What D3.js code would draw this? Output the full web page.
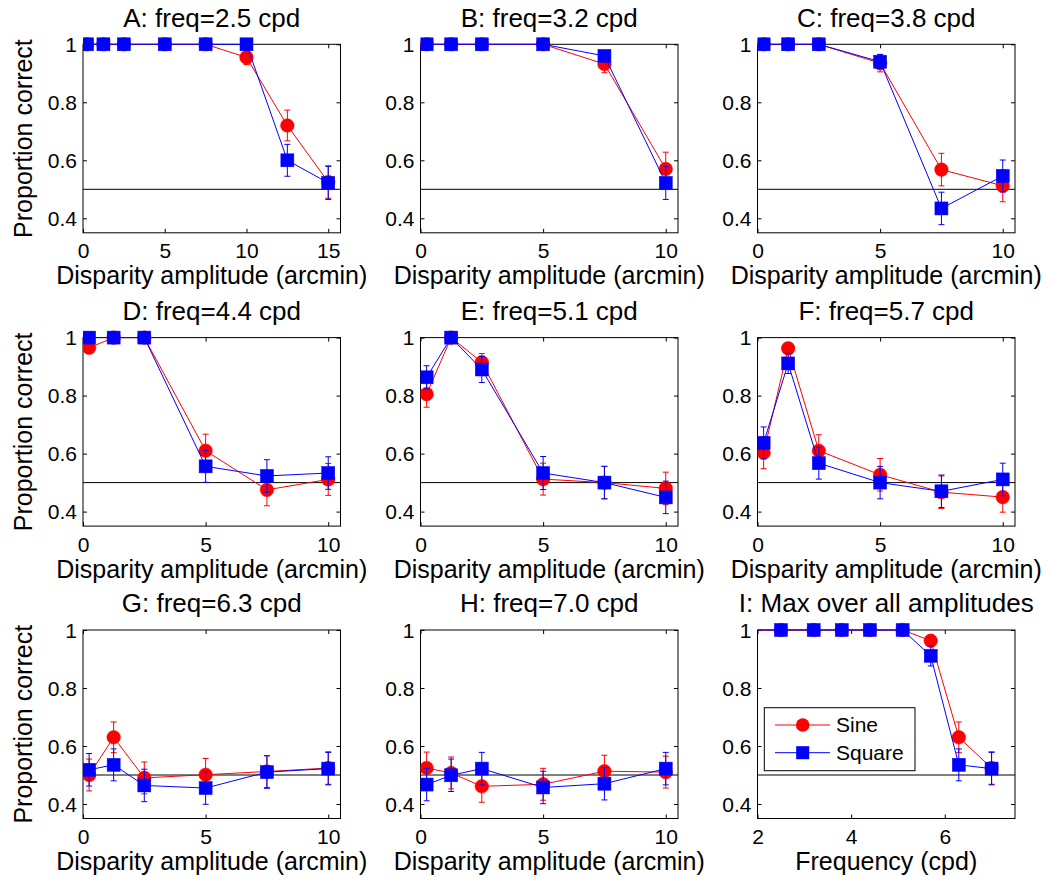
<!DOCTYPE html>
<html><head><meta charset="utf-8">
<script src="https://cdn.jsdelivr.net/npm/d3@7"></script>
<style>
body{margin:0;background:#fff}
text{font-family:"Liberation Sans",Arial,Helvetica,sans-serif;fill:#000}
</style>
</head><body>
<svg id="chart" width="1052" height="881"></svg>
<script>
// ---------- data ----------
const amps8 = [0.25, 1.25, 2.5, 5, 7.5, 10, 12.5, 15];
const amps6 = [0.25, 1.25, 2.5, 5, 7.5, 10];
const freqs = [1.9, 2.5, 3.2, 3.8, 4.4, 5.1, 5.7, 6.3, 7.0];

const sineA = [1, 1, 1, 1, 1, 0.955, 0.72, 0.525];
const sineAErr = [0, 0, 0, 0, 0, 0.025, 0.053, 0.056];
const squareA = [1, 1, 1, 1, 1, 1, 0.6, 0.522];
const squareAErr = [0, 0, 0, 0, 0, 0, 0.055, 0.057];

const sineB = [1, 1, 1, 1, 0.932, 0.57];
const sineBErr = [0, 0, 0, 0, 0.03, 0.058];
const squareB = [1, 1, 1, 1, 0.96, 0.522];
const squareBErr = [0, 0, 0, 0, 0.012, 0.057];

const sineC = [1, 1, 1, 0.935, 0.568, 0.512];
const sineCErr = [0, 0, 0, 0.03, 0.056, 0.055];
const squareC = [1, 1, 1, 0.94, 0.434, 0.546];
const squareCErr = [0, 0, 0, 0.025, 0.056, 0.055];

const sineD = [0.965, 1, 1, 0.61, 0.475, 0.511];
const sineDErr = [0.02, 0, 0, 0.057, 0.055, 0.055];
const squareD = [1, 1, 1, 0.556, 0.523, 0.533];
const squareDErr = [0, 0, 0, 0.055, 0.056, 0.056];

const sineE = [0.805, 1, 0.915, 0.512, 0.5, 0.48];
const sineEErr = [0.045, 0, 0.03, 0.055, 0.056, 0.056];
const squareE = [0.863, 1, 0.89, 0.533, 0.5, 0.449];
const squareEErr = [0.04, 0, 0.045, 0.057, 0.056, 0.056];

const sineF = [0.603, 0.963, 0.61, 0.527, 0.467, 0.45];
const sineFErr = [0.055, 0.02, 0.055, 0.056, 0.056, 0.052];
const squareF = [0.637, 0.911, 0.567, 0.5, 0.47, 0.511];
const squareFErr = [0.055, 0.035, 0.055, 0.056, 0.056, 0.056];

const sineG = [0.5, 0.63, 0.49, 0.501, 0.512, 0.524];
const sineGErr = [0.055, 0.053, 0.055, 0.056, 0.055, 0.056];
const squareG = [0.518, 0.535, 0.464, 0.455, 0.51, 0.522];
const squareGErr = [0.056, 0.055, 0.056, 0.056, 0.056, 0.056];

const sineH = [0.524, 0.507, 0.461, 0.468, 0.513, 0.51];
const sineHErr = [0.055, 0.055, 0.055, 0.055, 0.055, 0.055];
const squareH = [0.467, 0.499, 0.522, 0.457, 0.47, 0.522];
const squareHErr = [0.056, 0.056, 0.056, 0.056, 0.056, 0.056];

const sineI = [1, 1, 1, 1, 1, 1, 0.963, 0.63, 0.524];
const sineIErr = [0, 0, 0, 0, 0, 0, 0.02, 0.053, 0.056];
const squareI = [1, 1, 1, 1, 1, 1, 0.911, 0.535, 0.522];
const squareIErr = [0, 0, 0, 0, 0, 0, 0.035, 0.055, 0.056];

const titles = ["A: freq=2.5 cpd", "B: freq=3.2 cpd", "C: freq=3.8 cpd",
                "D: freq=4.4 cpd", "E: freq=5.1 cpd", "F: freq=5.7 cpd",
                "G: freq=6.3 cpd", "H: freq=7.0 cpd", "I: Max over all amplitudes"];
const yTicks = [0.4, 0.6, 0.8, 1];
const yTickLabels = ["0.4", "0.6", "0.8", "1"];
const ampTicks15 = [0, 5, 10, 15];
const ampTicks10 = [0, 5, 10];
const freqTicks = [2, 4, 6];
const chance = 0.5;
const legendLabels = ["Sine", "Square"];

// ---------- layout ----------
const panels = [
  {x: amps8, s: sineA, se: sineAErr, q: squareA, qe: squareAErr, xt: ampTicks15},
  {x: amps6, s: sineB, se: sineBErr, q: squareB, qe: squareBErr, xt: ampTicks10},
  {x: amps6, s: sineC, se: sineCErr, q: squareC, qe: squareCErr, xt: ampTicks10},
  {x: amps6, s: sineD, se: sineDErr, q: squareD, qe: squareDErr, xt: ampTicks10},
  {x: amps6, s: sineE, se: sineEErr, q: squareE, qe: squareEErr, xt: ampTicks10},
  {x: amps6, s: sineF, se: sineFErr, q: squareF, qe: squareFErr, xt: ampTicks10},
  {x: amps6, s: sineG, se: sineGErr, q: squareG, qe: squareGErr, xt: ampTicks10},
  {x: amps6, s: sineH, se: sineHErr, q: squareH, qe: squareHErr, xt: ampTicks10},
  {x: freqs, s: sineI, se: sineIErr, q: squareI, qe: squareIErr, xt: freqTicks, freq: true}
];
const lefts = [83, 420.5, 757.5];
const tops = [44.3, 337.6, 630];
const W = 257.5, H = 188.5;
const RED = "#ff0000", BLUE = "#0000ff";
const tickFont = 21, labelFont = 25, titleFont = 26;

const svg = d3.select("#chart");
svg.append("rect").attr("width", 1052).attr("height", 881).attr("fill", "#fff");

panels.forEach((p, i) => {
  const col = i % 3, row = Math.floor(i / 3);
  const L = lefts[col], T = tops[row];
  const x = d3.scaleLinear()
    .domain(p.freq ? [2, 7.5] : [0, d3.max(p.x) * 1.05])
    .range([L, L + W]);
  const y = d3.scaleLinear().domain([0.35, 1]).range([T + H, T]);
  const g = svg.append("g");

  const clipId = "clip" + i;
  svg.append("clipPath").attr("id", clipId)
    .append("rect").attr("x", L).attr("y", T - 8).attr("width", W).attr("height", H + 16);

  // axes with inward ticks on four sides
  const tl = 4;
  const axB = g.append("g").attr("transform", `translate(0,${T + H})`)
    .call(d3.axisBottom(x).tickValues(p.xt).tickSize(-tl).tickPadding(10.6).tickFormat(d3.format("d")));
  const axT = g.append("g").attr("transform", `translate(0,${T})`)
    .call(d3.axisTop(x).tickValues(p.xt).tickSize(-tl).tickFormat(""));
  const axL = g.append("g").attr("transform", `translate(${L},0)`)
    .call(d3.axisLeft(y).tickValues(yTicks).tickSize(-tl).tickPadding(6)
      .tickFormat((d, k) => yTickLabels[k]));
  const axR = g.append("g").attr("transform", `translate(${L + W},0)`)
    .call(d3.axisRight(y).tickValues(yTicks).tickSize(-tl).tickFormat(""));
  [axB, axT, axL, axR].forEach(a => {
    a.select(".domain").remove();
    a.selectAll("line").attr("stroke", "#000").attr("stroke-width", 1);
    a.selectAll("text").attr("font-size", tickFont)
      .attr("font-family", '"Liberation Sans",Arial,sans-serif').attr("fill", "#000");
  });
  axL.selectAll("text").attr("dy", "0.35em");

  g.append("rect").attr("x", L).attr("y", T).attr("width", W).attr("height", H)
    .attr("fill", "none").attr("stroke", "#000").attr("stroke-width", 1);

  // chance line
  g.append("line").attr("x1", L).attr("x2", L + W)
    .attr("y1", y(chance)).attr("y2", y(chance))
    .attr("stroke", "#000").attr("stroke-width", 1);

  const plot = g.append("g").attr("clip-path", `url(#${clipId})`);
  const dom = x.domain();
  const series = [
    {v: p.s, e: p.se, c: RED, m: "circle"},
    {v: p.q, e: p.qe, c: BLUE, m: "square"}
  ];
  series.forEach(sr => {
    const pts = p.x.map((xv, k) => ({x: xv, y: sr.v[k], e: sr.e[k]}));
    const vis = pts.filter(d => d.x >= dom[0] && d.x <= dom[1]);
    plot.append("path").datum(pts)
      .attr("fill", "none").attr("stroke", sr.c).attr("stroke-width", 1)
      .attr("d", d3.line().x(d => x(d.x)).y(d => y(d.y)));
    const eb = plot.append("g").selectAll("g").data(vis.filter(d => d.e > 0)).join("g");
    eb.append("line").attr("x1", d => x(d.x)).attr("x2", d => x(d.x))
      .attr("y1", d => y(d.y - d.e)).attr("y2", d => y(d.y + d.e))
      .attr("stroke", sr.c).attr("stroke-width", 1);
    [-1, 1].forEach(sgn => {
      eb.append("line").attr("x1", d => x(d.x) - 3).attr("x2", d => x(d.x) + 3)
        .attr("y1", d => y(d.y + sgn * d.e)).attr("y2", d => y(d.y + sgn * d.e))
        .attr("stroke", sr.c).attr("stroke-width", 1);
    });
    if (sr.m === "circle") {
      plot.append("g").selectAll("circle").data(vis).join("circle")
        .attr("cx", d => x(d.x)).attr("cy", d => y(d.y)).attr("r", 6.8)
        .attr("fill", sr.c).attr("stroke", sr.c).attr("stroke-width", 0.5);
    } else {
      plot.append("g").selectAll("rect").data(vis).join("rect")
        .attr("x", d => x(d.x) - 6.5).attr("y", d => y(d.y) - 6.5)
        .attr("width", 13).attr("height", 13)
        .attr("fill", sr.c).attr("stroke", sr.c).attr("stroke-width", 0.5);
    }
  });

  // title
  g.append("text").attr("x", L + W / 2).attr("y", T - 17.7)
    .attr("text-anchor", "middle").attr("font-size", titleFont).text(titles[i]);
  // x label
  g.append("text").attr("x", L + W / 2).attr("y", T + H + 51.6)
    .attr("text-anchor", "middle").attr("font-size", labelFont)
    .text(p.freq ? "Frequency (cpd)" : "Disparity amplitude (arcmin)");
  // y label
  if (col === 0) {
    g.append("text").attr("transform", `translate(${L - 51.3},${T + H / 2}) rotate(-90)`)
      .attr("text-anchor", "middle").attr("font-size", labelFont).text("Proportion correct");
  }

  // legend
  if (p.freq) {
    const lg = g.append("g");
    lg.append("rect").attr("x", 764.3).attr("y", 707.7).attr("width", 150.7).attr("height", 63)
      .attr("fill", "#fff").attr("stroke", "#000").attr("stroke-width", 1);
    legendLabels.forEach((lab, k) => {
      const yy = 725 + k * 27.7;
      const c = k === 0 ? RED : BLUE;
      lg.append("line").attr("x1", 775).attr("x2", 830).attr("y1", yy).attr("y2", yy)
        .attr("stroke", c).attr("stroke-width", 1);
      if (k === 0) {
        lg.append("circle").attr("cx", 802.7).attr("cy", yy).attr("r", 6.8).attr("fill", c);
      } else {
        lg.append("rect").attr("x", 802.7 - 6.5).attr("y", yy - 6.5)
          .attr("width", 13).attr("height", 13).attr("fill", c);
      }
      lg.append("text").attr("x", 836).attr("y", yy).attr("dy", "0.35em")
        .attr("font-size", 21).text(lab);
    });
  }
});
</script>
</body></html>
